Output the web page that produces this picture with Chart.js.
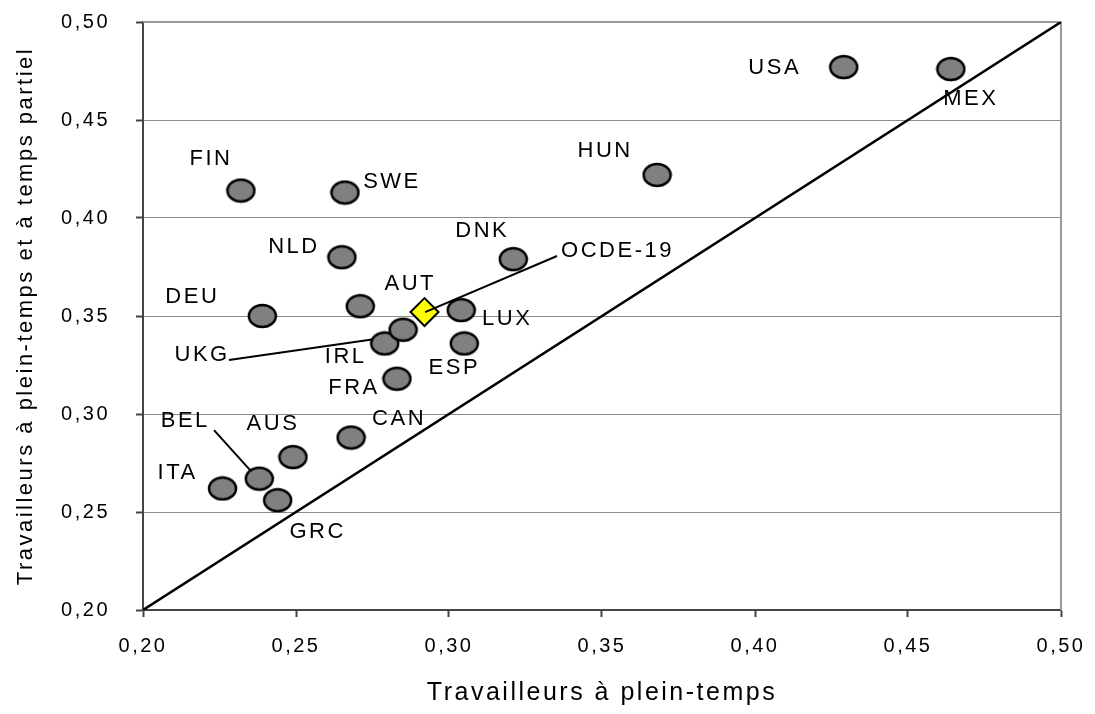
<!DOCTYPE html>
<html lang="fr">
<head>
<meta charset="utf-8">
<title>Travailleurs à plein-temps</title>
<script src="https://cdn.jsdelivr.net/npm/chart.js@4.4.1/dist/chart.umd.min.js"></script>
<style>
  html, body { margin: 0; padding: 0; background: #fff; }
  #box { width: 1095px; height: 714px; }
</style>
</head>
<body>
<div id="box"><canvas id="graphique"></canvas></div>
<script>
// Données (IRL avant UKG : UKG est tracé par-dessus)
const pays = ['USA', 'MEX', 'HUN', 'FIN', 'SWE', 'NLD', 'DNK', 'DEU', 'AUT', 'LUX',
              'IRL', 'UKG', 'ESP', 'FRA', 'CAN', 'AUS', 'BEL', 'ITA', 'GRC'];
const pleinTemps = [0.429, 0.464, 0.368, 0.232, 0.266, 0.265, 0.321, 0.239, 0.271, 0.304,
                    0.279, 0.285, 0.305, 0.283, 0.268, 0.249, 0.238, 0.226, 0.244];
const pleinEtPartiel = [0.477, 0.476, 0.422, 0.414, 0.413, 0.380, 0.379, 0.350, 0.355, 0.353,
                        0.336, 0.343, 0.336, 0.318, 0.288, 0.278, 0.267, 0.262, 0.256];
const ocdeNom = ['OCDE-19'];
const ocdeX = [0.292];
const ocdeY = [0.352];
const diagonale = [0.20, 0.50];
const ticksAxe = ['0,20', '0,25', '0,30', '0,35', '0,40', '0,45', '0,50'];

// position des étiquettes (décalage en pixels par rapport au point)
const decalages = {
    USA: [-69, 1], MEX: [20, 30], HUN: [-52, -24], FIN: [-30, -32], SWE: [47, -11],
    NLD: [-48, -10], DNK: [-31, -28], DEU: [-70, -19], AUT: [50, -22], LUX: [46, 9],
    IRL: [-39, 13], UKG: [-201, 25], ESP: [-10, 24], FRA: [-43, 9], CAN: [48, -19],
    AUS: [-20, -33], BEL: [-74, -58], ITA: [-45, -16], GRC: [40, 32], 'OCDE-19': [193, -61]
};

// traits de rappel (coordonnées des données) : [x1, y1, x2, y2, dessus]
const traits = [
    [0.2281, 0.3276, 0.2794, 0.3390, false], // UKG
    [0.2232, 0.2918, 0.2350, 0.2714, false], // BEL
    [0.2922, 0.3520, 0.3353, 0.3806, true]   // OCDE-19
];

const police = "'Liberation Sans', Arial, sans-serif";
Chart.defaults.font.family = police;
Chart.defaults.color = '#000';

// marqueur en ellipse (gris, contour noir)
function creerEllipse() {
    const c = document.createElement('canvas');
    c.width = 31;
    c.height = 26;
    const g = c.getContext('2d');
    g.beginPath();
    g.ellipse(15.5, 13, 13.5, 11, 0, 0, Math.PI * 2);
    g.fillStyle = '#808080';
    g.fill();
    g.lineWidth = 2.5;
    g.strokeStyle = '#000';
    g.stroke();
    return c;
}

function dessinerTraits(chart, dessus) {
    const ctx = chart.ctx;
    const sx = chart.scales.x, sy = chart.scales.y;
    ctx.save();
    ctx.strokeStyle = '#000';
    ctx.lineWidth = 2;
    traits.forEach(t => {
        if (t[4] !== dessus) return;
        ctx.beginPath();
        ctx.moveTo(sx.getPixelForValue(t[0]), sy.getPixelForValue(t[1]));
        ctx.lineTo(sx.getPixelForValue(t[2]), sy.getPixelForValue(t[3]));
        ctx.stroke();
    });
    ctx.restore();
}

const pluginDecor = {
    id: 'decor',
    beforeDraw(chart) {
        chart.ctx.letterSpacing = '2.5px';
    },
    beforeDatasetsDraw(chart) {
        const ctx = chart.ctx;
        const a = chart.chartArea;
        ctx.save();
        ctx.strokeStyle = '#999';
        ctx.lineWidth = 2;
        ctx.beginPath();
        ctx.moveTo(a.left, a.top);
        ctx.lineTo(a.right, a.top);
        ctx.lineTo(a.right, a.bottom);
        ctx.stroke();
        ctx.restore();
        dessinerTraits(chart, false);
    },
    afterDatasetsDraw(chart) {
        dessinerTraits(chart, true);
        const ctx = chart.ctx;
        const sx = chart.scales.x, sy = chart.scales.y;
        ctx.save();
        ctx.font = '22px ' + police;
        ctx.fillStyle = '#000';
        ctx.textAlign = 'center';
        ctx.textBaseline = 'middle';
        const noms = pays.concat(ocdeNom);
        const xs = pleinTemps.concat(ocdeX);
        const ys = pleinEtPartiel.concat(ocdeY);
        noms.forEach((nom, i) => {
            const d = decalages[nom];
            ctx.fillText(nom, sx.getPixelForValue(xs[i]) + d[0], sy.getPixelForValue(ys[i]) + d[1]);
        });
        ctx.restore();
    }
};

function etiquette(v) {
    return ticksAxe[Math.round((v - 0.2) / 0.05)];
}

new Chart(document.getElementById('graphique'), {
    type: 'scatter',
    data: {
        datasets: [
            {
                label: 'OCDE-19',
                data: ocdeX.map((x, i) => ({ x: x, y: ocdeY[i] })),
                pointStyle: 'rectRot',
                pointRadius: 14,
                pointHoverRadius: 14,
                backgroundColor: '#ffff00',
                borderColor: '#000',
                borderWidth: 2,
                order: 1
            },
            {
                label: 'Pays',
                data: pleinTemps.map((x, i) => ({ x: x, y: pleinEtPartiel[i] })),
                pointStyle: creerEllipse(),
                pointRadius: 13,
                pointHoverRadius: 13,
                order: 2
            },
            {
                type: 'line',
                label: 'Diagonale',
                data: diagonale.map(v => ({ x: v, y: v })),
                borderColor: '#000',
                borderWidth: 2.5,
                pointRadius: 0,
                fill: false,
                order: 3
            }
        ]
    },
    options: {
        responsive: true,
        maintainAspectRatio: false,
        animation: false,
        layout: { padding: { top: 22, right: 34, left: 0, bottom: 0 } },
        plugins: {
            legend: { display: false },
            tooltip: { enabled: false }
        },
        scales: {
            x: {
                type: 'linear',
                min: 0.2,
                max: 0.5,
                afterFit: s => {
                    s.height = 104;
                    s.paddingLeft = 0;
                    s.paddingRight = 0;
                },
                ticks: { stepSize: 0.05, callback: etiquette, font: { size: 20 }, padding: 17, maxRotation: 0 },
                grid: { drawOnChartArea: false, tickLength: 7, tickColor: '#444', tickWidth: 2 },
                border: { color: '#444', width: 2 },
                title: {
                    display: true,
                    text: 'Travailleurs à plein-temps',
                    font: { size: 25 },
                    padding: { top: 0, bottom: 6 }
                }
            },
            y: {
                type: 'linear',
                min: 0.2,
                max: 0.5,
                afterFit: s => {
                    s.width = 143;
                    s.paddingTop = 0;
                    s.paddingBottom = 0;
                },
                ticks: { stepSize: 0.05, callback: etiquette, font: { size: 20 }, padding: 26 },
                grid: { color: '#8c8c8c', lineWidth: 1, tickLength: 7, tickColor: '#444', tickWidth: 2 },
                border: { color: '#444', width: 2 },
                title: {
                    display: true,
                    text: 'Travailleurs à plein-temps et à temps partiel',
                    font: { size: 22 },
                    padding: { top: 13, bottom: 0 }
                }
            }
        }
    },
    plugins: [pluginDecor]
});
</script>
</body>
</html>
